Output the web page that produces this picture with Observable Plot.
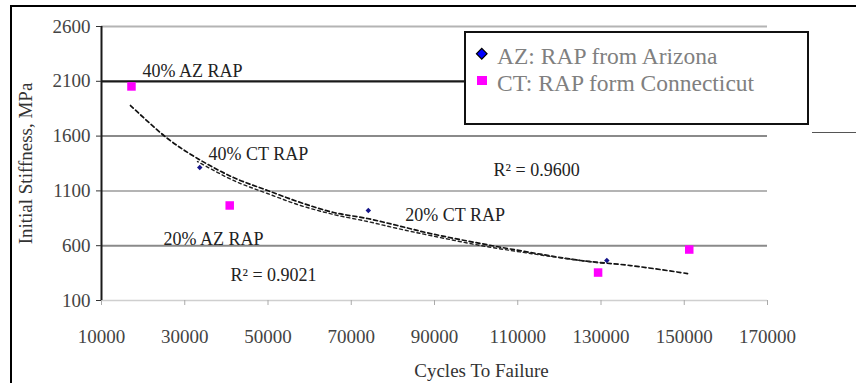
<!DOCTYPE html>
<html>
<head>
<meta charset="utf-8">
<script src="https://cdn.jsdelivr.net/npm/d3@7"></script>
<script src="https://cdn.jsdelivr.net/npm/@observablehq/plot@0.6"></script>
<style>
  html, body { margin: 0; padding: 0; background: #fff; }
  #wrap { position: relative; width: 856px; height: 383px; overflow: hidden; }
  #wrap svg.plot { position: absolute; left: 0; top: 0; }
  #border { position: absolute; left: 10px; top: 5px; width: 846px; height: 378px; border-top: 2px solid #000; border-left: 2px solid #000; pointer-events: none; }
  #stray { position: absolute; left: 812px; top: 132px; width: 44px; height: 1px; background: #555; }
  #legend { position: absolute; left: 464px; top: 31px; width: 341px; height: 90px; border: 2px solid #111; background: #fff; }
  #legend svg { position: absolute; left: 0; top: 0; }
</style>
</head>
<body>
<div id="wrap">
  <div id="border"></div>
  <div id="stray"></div>
</div>
<script>
// ---- data ----
const xTicks = [10000, 30000, 50000, 70000, 90000, 110000, 130000, 150000, 170000];
const yTicks = [100, 600, 1100, 1600, 2100, 2600];

const seriesNames = ["AZ: RAP from Arizona", "CT: RAP form Connecticut"];

const azCycles = [33600, 74100, 131400];
const azStiffness = [1314, 921, 465];

const ctCycles = [17200, 40800, 129300, 151200];
const ctStiffness = [2053, 967, 355, 565];

// trend lines
const trendCtX = [16970, 25860, 33060, 41710, 49880, 57810, 65740, 73900, 81110, 89040, 101050, 113060, 125070, 137090, 150780];
const trendCtY = [1879, 1578, 1396, 1222, 1104, 994, 903, 848, 784, 711, 620, 538, 465, 419, 346];
const trendAzX = [33060, 41710, 49880, 57810, 65740, 73900, 81110, 89040, 101050, 113060, 125070, 131080];
const trendAzY = [1368, 1195, 1076, 967, 885, 821, 757, 693, 602, 529, 465, 438];

// annotations
const noteText = ["40% AZ RAP", "40% CT RAP", "20% CT RAP", "20% AZ RAP", "R² = 0.9021", "R² = 0.9600"];
const noteX = [19850, 35700, 83000, 24900, 41000, 104200];
const noteY = [2190, 1430, 880, 660, 330, 1290];

const xTitle = "Cycles To Failure";
const yTitle = "Initial Stiffness, MPa";

// ---- build tables ----
const az = azCycles.map((x, i) => ({x, y: azStiffness[i]}));
const ct = ctCycles.map((x, i) => ({x, y: ctStiffness[i]}));
const trendCt = trendCtX.map((x, i) => ({x, y: trendCtY[i]}));
const trendAz = trendAzX.map((x, i) => ({x, y: trendAzY[i]}));
const notes = noteText.map((t, i) => ({t, x: noteX[i], y: noteY[i]}));

const plain = d => String(d);
const serif = "Liberation Serif, DejaVu Serif, serif";

const chart = Plot.plot({
  width: 856,
  height: 383,
  marginLeft: 101,
  marginRight: 89,
  marginTop: 26,
  marginBottom: 83,
  style: {fontFamily: serif, background: "transparent", color: "#333"},
  x: {domain: [10000, 170000]},
  y: {domain: [100, 2600]},
  marks: [
    Plot.ruleY([yTicks[0]], {stroke: "#cfcfcf", strokeWidth: 1.5}),
    Plot.ruleY([yTicks[2], yTicks[5]], {stroke: "#b4b4b4", strokeWidth: 2}),
    Plot.ruleY([yTicks[1], yTicks[3]], {stroke: "#8a8a8a", strokeWidth: 2}),
    Plot.ruleY([yTicks[4]], {stroke: "#1a1a1a", strokeWidth: 2.2}),
    Plot.ruleX([xTicks[0]], {stroke: "#1a1a1a", strokeWidth: 2}),
    Plot.axisY(yTicks, {tickSize: 5, tickPadding: 6, fontSize: 19, label: null, tickFormat: plain, stroke: "#333", fill: "#444"}),
    Plot.axisX(xTicks, {tickSize: 5, tickPadding: 23.5, fontSize: 19, label: null, tickFormat: plain, stroke: "#aaa", fill: "#444"}),
    Plot.line(trendCt, {x: "x", y: "y", stroke: "#111", strokeWidth: 1.7, strokeDasharray: "4,3", curve: "catmull-rom"}),
    Plot.line(trendAz, {x: "x", y: "y", stroke: "#222", strokeWidth: 1.4, strokeDasharray: "3,3", strokeDashoffset: 2, curve: "catmull-rom"}),
    Plot.dot(ct, {x: "x", y: "y", symbol: "square", r: 4.8, fill: "#ff00ff", stroke: null}),
    Plot.dot(az, {x: "x", y: "y", symbol: "square", r: 2.2, rotate: 45, fill: "#15158a", stroke: null}),
    Plot.text(notes, {x: "x", y: "y", text: "t", textAnchor: "start", lineAnchor: "middle", fontSize: 18, fill: "#222"}),
    Plot.text([yTitle], {frameAnchor: "left", dx: -76, rotate: -90, textAnchor: "middle", lineAnchor: "middle", fontSize: 19, fill: "#333"}),
    Plot.text([xTitle], {frameAnchor: "bottom", dx: 47, dy: 70, textAnchor: "middle", lineAnchor: "middle", fontSize: 19, fill: "#333"})
  ]
});

const wrap = document.getElementById("wrap");
wrap.insertBefore(chart, wrap.firstChild);

// legend (overlay inside the plot area)
const legend = document.createElement("div");
legend.id = "legend";
legend.innerHTML = `
  <svg width="341" height="90" font-family="${serif}" font-size="23.5" fill="#808080">
    <rect x="12" y="17" width="7.5" height="7.5" fill="#0000ff" stroke="#000" stroke-width="1.2" transform="rotate(45 15.75 20.75)"></rect>
    <rect x="11" y="43" width="10" height="9" fill="#ff00ff"></rect>
    <text x="31" y="31">${seriesNames[0]}</text>
    <text x="31" y="58">${seriesNames[1]}</text>
  </svg>`;
wrap.appendChild(legend);
</script>
</body>
</html>
